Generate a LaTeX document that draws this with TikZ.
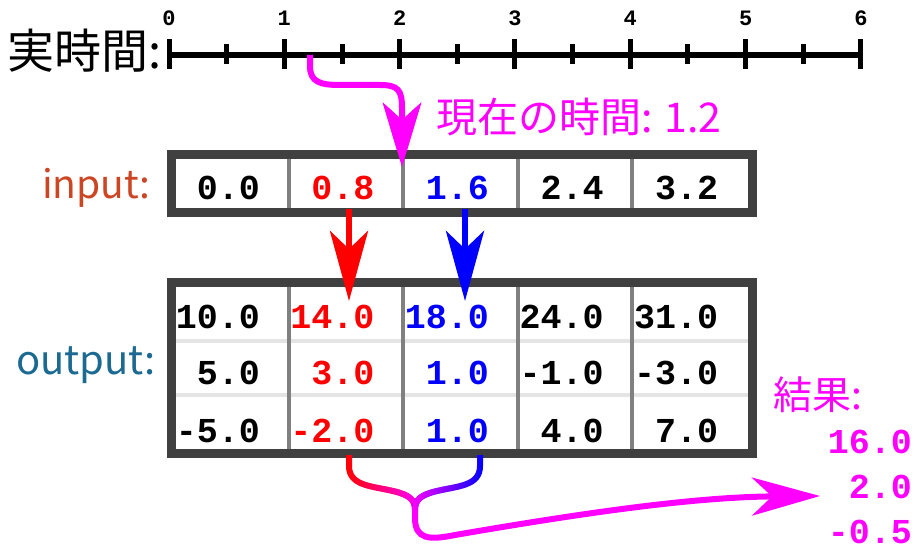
\documentclass[tikz,border=0pt]{standalone}
\usepackage{fontspec}
\setmainfont{Liberation Sans}
\newfontfamily\cjk{Noto Sans CJK JP}
\newfontfamily\monof{Liberation Mono}
\usetikzlibrary{arrows.meta,fadings}
\definecolor{boxgray}{HTML}{404040}
\definecolor{sepgray}{HTML}{808080}
\definecolor{rowgray}{HTML}{E4E4E4}
\definecolor{inred}{RGB}{204,70,36}
\definecolor{outblue}{RGB}{28,106,146}
\definecolor{mag}{RGB}{255,0,255}
\definecolor{pred}{RGB}{255,0,0}
\definecolor{pblue}{RGB}{0,0,255}
\tikzfading[name=fadeleft, left color=transparent!100, right color=transparent!0]
\tikzfading[name=faderight, left color=transparent!0, right color=transparent!100]
\tikzset{
  val/.style={anchor=base east, inner sep=0pt, font=\monof\bfseries\fontsize{35}{40}\selectfont},
  frame/.style={draw=boxgray, line width=9pt, fill=white},
  vsep/.style={draw=sepgray, line width=4pt},
  hsep/.style={draw=rowgray, line width=4pt},
  tick/.style={line width=5pt},
  ticklab/.style={inner sep=0pt, anchor=base, font=\monof\bfseries\fontsize{22}{24}\selectfont},
  bigarrow/.style={line width=6pt},
}
\begin{document}
\begin{tikzpicture}[x=1pt,y=-1pt]
\useasboundingbox (0,0) rectangle (924,559);
% timeline
\coordinate (t0) at (169,55);
\coordinate (t6) at (861,55);
\draw[line width=6pt] (t0) -- (t6);
\foreach \i in {0,...,6}{
  \draw[tick] (169+115.33*\i,39) -- (169+115.33*\i,69);
  \node[ticklab] (tl\i) at (169+115.33*\i,26) {\i};
}
\foreach \i in {0,...,5}{
  \draw[tick] (169+115.33*\i+57.67,44) -- (169+115.33*\i+57.67,64);
}
\node[anchor=base east, inner sep=0pt, font=\cjk\fontsize{47}{50}\selectfont] (rt) at (162,69) {実時間:};
% current time arrow
\coordinate (now) at (310,55);
\coordinate (nowtip) at (402,167);
\draw[mag, bigarrow, -{Stealth[length=64pt,width=38pt,inset=17pt]}]
  (now) -- (310,66) .. controls (310,82) and (320,85) .. (340,85) -- (380,85)
  .. controls (398,85) and (402,90) .. (402,108) -- (nowtip);
\node[anchor=base west, inner sep=0pt, text=mag, font=\cjk\fontsize{41}{44}\selectfont] (nowlab) at (436,133) {現在の時間: 1.2};
% input box
\draw[frame] (171.5,154.5) rectangle (752.5,212.5);
\foreach \k in {1,...,4}{ \draw[vsep] (174+114.6*\k,159) -- (174+114.6*\k,208); }
\node[anchor=base east, inner sep=0pt, text=inred, font=\cjk\fontsize{39}{42}\selectfont] (inlab) at (151,198) {input:};
\node[val] (i0) at (260,200) {0.0};
\node[val, text=pred] (i1) at (374.6,200) {0.8};
\node[val, text=pblue] (i2) at (489.2,200) {1.6};
\node[val] (i3) at (603.8,200) {2.4};
\node[val] (i4) at (718.4,200) {3.2};
% redraw tip of current-time arrow over the box border
\draw[mag, bigarrow, -{Stealth[length=64pt,width=38pt,inset=17pt]}] (402,120) -- (nowtip);
% output box
\draw[frame] (171.5,282.5) rectangle (752.5,453.5);
\draw[hsep] (176,341) -- (748,341);
\draw[hsep] (176,395) -- (748,395);
\foreach \k in {1,...,4}{ \draw[vsep] (174+114.6*\k,287) -- (174+114.6*\k,449); }
\node[anchor=base east, inner sep=0pt, text=outblue, font=\cjk\fontsize{40}{44}\selectfont] (outlab) at (156,374) {output:};
\node[val] (a0) at (260,328) {10.0};
\node[val, text=pred] (a1) at (374.6,328) {14.0};
\node[val, text=pblue] (a2) at (489.2,328) {18.0};
\node[val] (a3) at (603.8,328) {24.0};
\node[val] (a4) at (718.4,328) {31.0};
\node[val] (b0) at (260,384) {5.0};
\node[val, text=pred] (b1) at (374.6,384) {3.0};
\node[val, text=pblue] (b2) at (489.2,384) {1.0};
\node[val] (b3) at (603.8,384) {-1.0};
\node[val] (b4) at (718.4,384) {-3.0};
\node[val] (c0) at (260,442) {-5.0};
\node[val, text=pred] (c1) at (374.6,442) {-2.0};
\node[val, text=pblue] (c2) at (489.2,442) {1.0};
\node[val] (c3) at (603.8,442) {4.0};
\node[val] (c4) at (718.4,442) {7.0};
% lookup arrows
\coordinate (rs) at (349,209);
\coordinate (rt2) at (349,301);
\coordinate (bs) at (465,209);
\coordinate (bt) at (465,301);
\draw[pred, bigarrow, -{Stealth[length=70pt,width=38pt,inset=18pt]}] (rs) -- (rt2);
\draw[pblue, bigarrow, -{Stealth[length=70pt,width=38pt,inset=18pt]}] (bs) -- (bt);
% result brace
\coordinate (ra) at (349,455);
\coordinate (ba) at (480,455);
\coordinate (jn) at (415,510);
\coordinate (restip) at (820,496);
\draw[pred, bigarrow] (ra) -- (349,466) .. controls (349,486) and (372,486) .. (393,491) .. controls (410,495) and (415,500) .. (jn);
\draw[mag, bigarrow, path fading=fadeleft] (ra) -- (349,466) .. controls (349,486) and (372,486) .. (393,491) .. controls (410,495) and (415,500) .. (jn);
\draw[pblue, bigarrow] (ba) -- (480,466) .. controls (480,486) and (458,486) .. (437,491) .. controls (420,495) and (415,500) .. (jn);
\draw[mag, bigarrow, path fading=faderight] (ba) -- (480,466) .. controls (480,486) and (458,486) .. (437,491) .. controls (420,495) and (415,500) .. (jn);
\draw[mag, bigarrow, -{Stealth[length=68pt,width=38pt,inset=20pt]}]
  (jn) -- (415,518) .. controls (415,540) and (430,540) .. (455,535)
  .. controls (600,510) and (700,497) .. (restip);
% results
\node[anchor=base west, inner sep=0pt, text=mag, font=\cjk\fontsize{39}{42}\selectfont] (reslab) at (773,409) {結果:};
\node[val, text=mag] (r0) at (912,453) {16.0};
\node[val, text=mag] (r1) at (912,498) {2.0};
\node[val, text=mag] (r2) at (912,543) {-0.5};
\end{tikzpicture}
\end{document}
